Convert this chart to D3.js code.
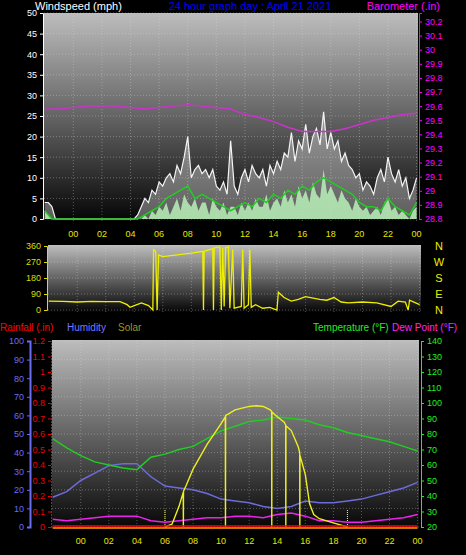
<!DOCTYPE html>
<html><head><meta charset="utf-8">
<script src="https://cdn.jsdelivr.net/npm/d3@7"></script>
<style>body{margin:0;background:#000}svg{display:block;font-family:"Liberation Sans",Arial,sans-serif}</style>
</head><body><div id="chart"></div>
<script>
// hour tick labels along each x axis
const hourTicks = [0, 2, 4, 6, 8, 10, 12, 14, 16, 18, 20, 22, 24];

// windspeed (mph), gusts + current every 15 min from -2h, average every 30 min
const gust = [4,4,3,0,0, 0,0,0,0,0,0,0,0,0,0,0,0,0,0,0,0,0,0,0,0,0, 1,3,
  5,4,7,6,9, 8,10,11,9, 13,11,15,20, 10,12,13,11, 12,10,12,8, 7,9,6,19, 8,6,10,12,
  9,13,11,10, 12,8,13,11, 14,12,16,15, 21,14,19,17, 23,16,20,22, 18,26,17,21,
  17,19,14,16, 13,12,10,11, 7,9,8,6, 10,12,9,15, 11,9,12,8, 10,5,7,10];
const windNow = [2,1,0,0,0, 0,0,0,0,0,0,0,0,0,0,0,0,0,0,0,0,0,0,0,0,0, 0,0,
  1,0,2,1,3, 2,4,1,3, 5,2,6,4, 3,5,2,4, 4,1,5,3, 2,4,1,3, 3,1,4,2,
  4,2,5,3, 3,6,2,4, 5,3,7,4, 6,3,8,5, 7,4,9,6, 5,12,6,8,
  6,4,7,5, 4,2,5,3, 2,3,1,2, 3,1,4,5, 2,3,1,2, 1,0,2,3];
const windAvg = [2,0, 0,0,0,0,0,0,0,0,0,0,0,0, 1,2,3,5,6,7,8,5,6,5,4,3,2,3,4,3,5,4,6,5,7,6,8,7,9,10,9,8,7,6,4,3,3,2,5,3,2,1,4];

// barometer (in), hourly from -2h
const baro = [29.58,29.58,29.59,29.60,29.60,29.60,29.59,29.58,29.59,29.60,29.61,29.60,29.59,29.58,29.54,29.52,29.49,29.45,29.42,29.42,29.42,29.44,29.47,29.50,29.52,29.54,29.55];

// wind direction (degrees)
const dirTimes = [-2,-1,0,1,2,3,3.5,3.7,4,4.5,5,5.3,5.35,5.5,5.6,5.7,6,7,8,8.8,8.85,8.9,9.5,9.55,9.6,10,10.1,10.2,10.3,10.4,10.6,10.7,10.9,11,11.5,11.6,11.7,12,12.1,12.2,12.5,13,13.5,14,14.1,14.5,15,15.5,16,17,17.5,18,18.5,19,20,21,22,22.5,23,23.2,23.3,24];
const dirValues = [50,48,45,48,47,47,30,15,25,40,25,0,340,330,0,310,300,310,320,330,0,330,345,0,350,355,0,350,20,350,355,10,340,10,20,340,10,30,340,15,30,10,15,0,100,70,50,60,75,60,55,70,45,40,45,40,20,50,45,0,55,30];
const compass = ["N", "W", "S", "E", "N"];

// bottom panel, hourly from -2h
const humidity = [16,19,25,29,33,34,34,27,22,21,20,18,15,14,13,11,10,11,14,13,13,14,15,17,19,21,24];
const temperature = [77,71,66,62,60,58,57,65,67,70,72,77,82,85,88,89,91,90,89,86,84,81,79,77,75,72,69];
const dewPoint = [25,24,25,26,27,27,27,24,23,24,25,26,26,27,27,26,28,29,27,24,24,23,23,24,25,26,28];
const solarTimes = [6,6.5,7,7.3,7.31,7.32,7.5,8,9,10,10.3,10.31,10.32,10.5,11,12,12.5,13,13.5,13.6,13.61,13.62,14,14.5,14.6,14.61,14.62,15,15.5,15.6,15.61,15.62,16,16.3,16.6,17,18,19];
const solarValues = [0,20,150,250,0,260,300,420,600,750,800,0,810,820,850,875,880,875,850,840,0,835,800,760,740,0,735,700,580,540,0,520,380,170,90,60,30,0];
const sunTimes = [6, 19];

const W = 466, H = 555;
const svg = d3.select("#chart").append("svg").attr("width", W).attr("height", H);
const defs = svg.append("defs");
const grad = defs.append("linearGradient").attr("id", "bg").attr("x1", 0).attr("y1", 0).attr("x2", 0).attr("y2", 1);
grad.append("stop").attr("offset", "0%").attr("stop-color", "#bdbdbd");
grad.append("stop").attr("offset", "55%").attr("stop-color", "#5a5a5a");
grad.append("stop").attr("offset", "100%").attr("stop-color", "#050505");

function panel(x0, x1, y0, y1, yScale, yTicks) {
  svg.append("rect").attr("x", x0).attr("y", y0).attr("width", x1 - x0).attr("height", y1 - y0).attr("fill", "url(#bg)");
  const x = d3.scaleLinear().domain([-2.05, 24.1]).range([x0, x1]);
  const g = svg.append("g");
  g.selectAll(".v").data(hourTicks).join("line")
    .attr("x1", d => x(d)).attr("x2", d => x(d)).attr("y1", y0).attr("y2", y1)
    .attr("stroke", "#ddd").attr("stroke-opacity", 0.35).attr("stroke-dasharray", "1,2");
  g.selectAll(".h").data(yTicks).join("line")
    .attr("x1", x0).attr("x2", x1).attr("y1", d => yScale(d)).attr("y2", d => yScale(d))
    .attr("stroke", "#ddd").attr("stroke-opacity", 0.35).attr("stroke-dasharray", "1,2");
  return x;
}
function hourLabels(x, y) {
  svg.append("g").selectAll("text").data(hourTicks).join("text")
    .attr("x", d => x(d)).attr("y", y).attr("text-anchor", "middle")
    .attr("fill", "#e6e600").attr("font-size", 9).text(d => d3.format("02")(d % 24));
}
function yAxis(scale, ticks, xPos, color, fmt, side) {
  const ax = (side === "left" ? d3.axisLeft(scale) : d3.axisRight(scale)).tickValues(ticks).tickSize(3).tickFormat(fmt);
  const g = svg.append("g").attr("transform", `translate(${xPos},0)`).call(ax);
  g.selectAll("text").attr("fill", color).attr("font-size", 9).attr("font-family", "Liberation Sans, Arial");
  g.selectAll("line").attr("stroke", color);
  g.select(".domain").attr("stroke", color);
  return g;
}

// ---- top panel: windspeed & barometer
const yWind = d3.scaleLinear().domain([0, 50]).range([219, 13]);
const yBaro = d3.scaleLinear().domain([28.8, 30.26]).range([219, 13]);
const xTop = panel(44, 418, 13, 221, yWind, d3.range(0, 51, 5));
const t15 = i => -2 + i * 0.25, t30 = i => -2 + i * 0.5, t60 = i => -2 + i;
svg.append("path").datum(gust)
  .attr("d", d3.area().x((d, i) => xTop(t15(i))).y0(yWind(0)).y1(d => yWind(d)))
  .attr("fill", "#fff").attr("fill-opacity", 0.35);
svg.append("path").datum(gust)
  .attr("d", d3.line().x((d, i) => xTop(t15(i))).y(d => yWind(d)))
  .attr("fill", "none").attr("stroke", "#f4f4f4").attr("stroke-width", 1.2);
svg.append("path").datum(windNow)
  .attr("d", d3.area().x((d, i) => xTop(t15(i))).y0(yWind(0)).y1(d => yWind(d)))
  .attr("fill", "#b8f0b8").attr("fill-opacity", 0.85);
svg.append("path").datum(windAvg)
  .attr("d", d3.line().x((d, i) => xTop(t30(i))).y(d => yWind(d)))
  .attr("fill", "none").attr("stroke", "#22cc22").attr("stroke-width", 1.5);
svg.append("path").datum(baro)
  .attr("d", d3.line().x((d, i) => xTop(t60(i))).y(d => yBaro(d)))
  .attr("fill", "none").attr("stroke", "#cc33cc").attr("stroke-width", 1.5);
yAxis(yWind, d3.range(0, 51, 5), 43, "#fff", d3.format("d"), "left");
yAxis(yBaro, d3.range(28.8, 30.25, 0.1).map(v => +v.toFixed(1)), 419, "#ff00ff", d3.format(".1f"), "right")
  .selectAll("text").text(d => +d.toFixed(1));
hourLabels(xTop, 237);

svg.append("text").attr("x", 35).attr("y", 10).attr("fill", "#fff").attr("font-size", 11).text("Windspeed (mph)");
svg.append("text").attr("x", 250).attr("y", 10).attr("text-anchor", "middle").attr("fill", "#0000ff").attr("font-size", 11).text("24 hour graph day : April 21 2021");
svg.append("text").attr("x", 440).attr("y", 10).attr("text-anchor", "end").attr("fill", "#ff00ff").attr("font-size", 11).text("Barometer (.in)");

// ---- middle panel: wind direction
const yDir = d3.scaleLinear().domain([0, 360]).range([310, 246]);
const xMid = panel(48, 421, 245, 312, yDir, [0, 90, 180, 270, 360]);
svg.append("path").datum(dirValues)
  .attr("d", d3.line().x((d, i) => xMid(dirTimes[i])).y(d => yDir(d)))
  .attr("fill", "none").attr("stroke", "#eeee00").attr("stroke-width", 1.3);
yAxis(yDir, [0, 90, 180, 270, 360], 47, "#dddd00", d3.format("d"), "left");
svg.append("g").selectAll("text").data(compass).join("text")
  .attr("x", 439).attr("y", (d, i) => 250 + i * 16).attr("text-anchor", "middle")
  .attr("fill", "#eeee00").attr("font-size", 11).text(d => d);

// ---- bottom panel
const yHum = d3.scaleLinear().domain([0, 100]).range([527, 341]);
const yRain = d3.scaleLinear().domain([0, 1.2]).range([527, 341]);
const yTemp = d3.scaleLinear().domain([20, 140]).range([527, 341]);
const ySolar = d3.scaleLinear().domain([0, 1350]).range([527, 341]);
const xBot = panel(52, 419, 340, 529, yHum, d3.range(0, 101, 10));
svg.append("g").selectAll("line").data(sunTimes).join("line")
  .attr("x1", d => xBot(d)).attr("x2", d => xBot(d)).attr("y1", 510).attr("y2", 527)
  .attr("stroke", "#ffff66").attr("stroke-dasharray", "1,1");
svg.append("path").datum(humidity)
  .attr("d", d3.line().x((d, i) => xBot(t60(i))).y(d => yHum(d)))
  .attr("fill", "none").attr("stroke", "#6c6cdc").attr("stroke-width", 1.5);
svg.append("path").datum(temperature)
  .attr("d", d3.line().x((d, i) => xBot(t60(i))).y(d => yTemp(d)))
  .attr("fill", "none").attr("stroke", "#22cc22").attr("stroke-width", 1.5);
svg.append("path").datum(dewPoint)
  .attr("d", d3.line().x((d, i) => xBot(t60(i))).y(d => yTemp(d)))
  .attr("fill", "none").attr("stroke", "#ee22ee").attr("stroke-width", 1.5);
svg.append("path").datum(solarValues)
  .attr("d", d3.line().x((d, i) => xBot(solarTimes[i])).y(d => ySolar(d)))
  .attr("fill", "none").attr("stroke", "#eeee22").attr("stroke-width", 1.4);
svg.append("line").attr("x1", xBot(-2)).attr("x2", xBot(24)).attr("y1", yRain(0) - 1).attr("y2", yRain(0) - 1)
  .attr("stroke", "#ff0000").attr("stroke-width", 1.5);
svg.append("line").attr("x1", xBot(-2)).attr("x2", xBot(24)).attr("y1", yRain(0) + 1).attr("y2", yRain(0) + 1)
  .attr("stroke", "#ff9900").attr("stroke-width", 1.5);
yAxis(yHum, d3.range(0, 101, 10), 30, "#6c6cf0", d3.format("d"), "left").select(".domain").attr("stroke-width", 2);
yAxis(yRain, d3.range(0, 1.21, 0.1).map(v => +v.toFixed(1)), 51, "#ee0000", d => +d.toFixed(1), "left")
  .select(".domain").attr("stroke-dasharray", "2,1");
yAxis(yTemp, d3.range(20, 141, 10), 421, "#22ee22", d3.format("d"), "right");
hourLabels(xBot, 544);

const legL = [["Rainfall (.in)", "#ff0000", 0], ["Humidity", "#7777ff", 67], ["Solar", "#999922", 118]];
const legR = [["Temperature (°F)", "#22ee22", 313], ["Dew Point (°F)", "#ff22ff", 392]];
svg.append("g").selectAll("text").data(legL.concat(legR)).join("text")
  .attr("x", d => d[2]).attr("y", 331).attr("fill", d => d[1]).attr("font-size", 10).text(d => d[0]);
</script></body></html>
